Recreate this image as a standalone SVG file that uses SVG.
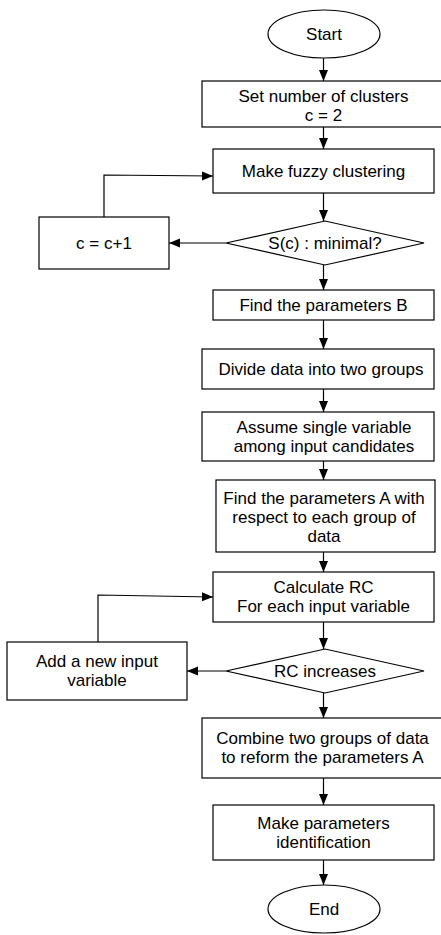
<svg xmlns="http://www.w3.org/2000/svg" width="441" height="935" viewBox="0 0 441 935">
<style>
.s{fill:#fff;stroke:#000;stroke-width:1.2}
.t{font-family:"Liberation Sans",Arial,sans-serif;font-size:17px;fill:#000;text-anchor:middle}
.c{fill:none;stroke:#000;stroke-width:1.2}
</style>
<defs>
<marker id="a" markerUnits="userSpaceOnUse" markerWidth="12" markerHeight="10" refX="11" refY="5" orient="auto">
<path d="M0,0.5 L11,5 L0,9.5 Z" fill="#000"/>
</marker>
</defs>
<rect width="441" height="935" fill="#fff"/>
<g id="connectors">
<line class="c" x1="323.5" y1="58" x2="323.5" y2="81" marker-end="url(#a)"/>
<line class="c" x1="323.5" y1="127" x2="323.5" y2="149" marker-end="url(#a)"/>
<line class="c" x1="323.5" y1="193" x2="323.5" y2="221" marker-end="url(#a)"/>
<line class="c" x1="226" y1="243" x2="169" y2="243" marker-end="url(#a)"/>
<polyline class="c" points="104,217 104,175 213,176" marker-end="url(#a)"/>
<line class="c" x1="323.5" y1="265" x2="323.5" y2="290" marker-end="url(#a)"/>
<line class="c" x1="323.5" y1="320" x2="323.5" y2="349" marker-end="url(#a)"/>
<line class="c" x1="323.5" y1="389" x2="323.5" y2="412" marker-end="url(#a)"/>
<line class="c" x1="323.5" y1="461" x2="323.5" y2="480" marker-end="url(#a)"/>
<line class="c" x1="323.5" y1="552" x2="323.5" y2="572" marker-end="url(#a)"/>
<line class="c" x1="323.5" y1="622" x2="323.5" y2="649" marker-end="url(#a)"/>
<line class="c" x1="226" y1="671" x2="187" y2="671" marker-end="url(#a)"/>
<polyline class="c" points="98,642 98,595 213,597" marker-end="url(#a)"/>
<line class="c" x1="323.5" y1="693" x2="323.5" y2="718" marker-end="url(#a)"/>
<line class="c" x1="323.5" y1="778" x2="323.5" y2="805" marker-end="url(#a)"/>
<line class="c" x1="323.5" y1="860" x2="323.5" y2="885" marker-end="url(#a)"/>
</g>
<g id="start"><ellipse class="s" cx="324" cy="34" rx="56" ry="24"/><text class="t" x="324" y="40">Start</text></g>
<g id="setClusters"><rect class="s" x="202" y="81" width="242" height="46"/><text class="t" x="323.5" y="102">Set number of clusters</text><text class="t" x="323.5" y="121">c = 2</text></g>
<g id="fuzzy"><rect class="s" x="213" y="149" width="221" height="44"/><text class="t" x="323.5" y="177">Make fuzzy clustering</text></g>
<g id="minimal"><polygon class="s" points="226,243 325,221 424,243 325,265"/><text class="t" x="325" y="249">S(c) : minimal?</text></g>
<g id="increment"><rect class="s" x="39" y="217" width="130" height="52"/><text class="t" x="104" y="249">c = c+1</text></g>
<g id="findB"><rect class="s" x="213" y="290" width="221" height="30"/><text class="t" x="323.5" y="311">Find the parameters B</text></g>
<g id="divide"><rect class="s" x="202" y="349" width="232" height="40"/><text class="t" x="321" y="375">Divide data into two groups</text></g>
<g id="assume"><rect class="s" x="202" y="412" width="232" height="49"/><text class="t" x="324" y="433">Assume single variable</text><text class="t" x="324" y="452">among input candidates</text></g>
<g id="findA"><rect class="s" x="216" y="480" width="219" height="72"/><text class="t" x="324" y="504">Find the parameters A with</text><text class="t" x="324" y="523">respect to each group of</text><text class="t" x="324" y="542">data</text></g>
<g id="calcRC"><rect class="s" x="213" y="572" width="221" height="50"/><text class="t" x="323.5" y="593">Calculate RC</text><text class="t" x="323.5" y="612">For each input variable</text></g>
<g id="rcIncreases"><polygon class="s" points="226,671 325,649 424,671 325,693"/><text class="t" x="325" y="677">RC increases</text></g>
<g id="addVar"><rect class="s" x="7" y="642" width="180" height="58"/><text class="t" x="97" y="667">Add a new input</text><text class="t" x="97" y="686">variable</text></g>
<g id="combine"><rect class="s" x="202" y="718" width="242" height="60"/><text class="t" x="322.5" y="744">Combine two groups of data</text><text class="t" x="322.5" y="763">to reform the parameters A</text></g>
<g id="identify"><rect class="s" x="213" y="805" width="221" height="55"/><text class="t" x="323.5" y="829">Make parameters</text><text class="t" x="323.5" y="848">identification</text></g>
<g id="end"><ellipse class="s" cx="324" cy="909" rx="56" ry="24"/><text class="t" x="324" y="915">End</text></g>
</svg>
